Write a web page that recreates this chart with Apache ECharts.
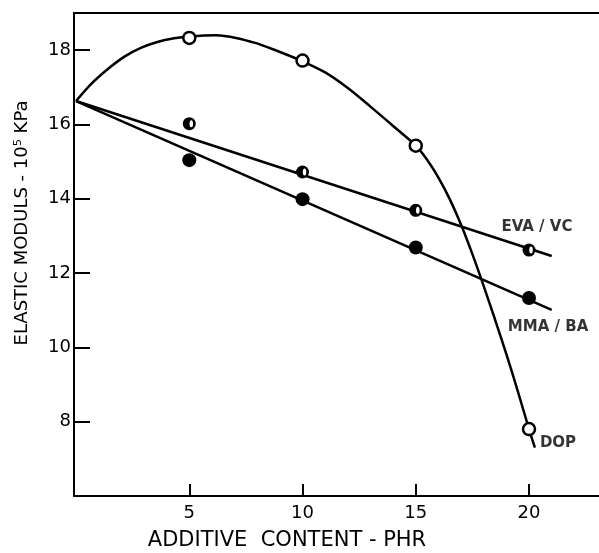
<!DOCTYPE html>
<html><head><meta charset="utf-8">
<script src="https://cdn.jsdelivr.net/npm/echarts@6/dist/echarts.min.js"></script>
<style>html,body{margin:0;padding:0;background:#fff}#c{width:599px;height:553px}</style>
</head><body><div id="c"></div>
<script>
// ---- data ----
const xTicks = [5, 10, 15, 20];
const yTicks = [8, 10, 12, 14, 16, 18];
const pointX = [5, 10, 15, 20];
const dopPoints = [18.33, 17.72, 15.43, 7.8];
const evaPoints = [16.02, 14.72, 13.69, 12.62];
const mmaPoints = [15.04, 13.99, 12.69, 11.33];
// drawn curves/lines
const dopCurveX = [0, 0.65, 1.38, 2.12, 2.86, 3.59, 4.33, 5, 6.2, 7.83, 9.0, 10, 11, 12, 13, 14, 15, 15.5, 16, 16.5, 17, 17.5, 18, 18.5, 19, 19.5, 20, 20.26];
const dopCurveY = [16.63, 17.08, 17.48, 17.82, 18.06, 18.22, 18.32, 18.37, 18.40, 18.21, 17.95, 17.7, 17.4, 16.98, 16.48, 15.96, 15.43, 15.05, 14.57, 13.99, 13.3, 12.51, 11.65, 10.75, 9.82, 8.83, 7.8, 7.3];
const evaLineX = [0, 21.0];
const evaLineY = [16.63, 12.46];
const mmaLineX = [0, 21.0];
const mmaLineY = [16.63, 11.01];
const seriesNames = ['EVA / VC', 'MMA / BA', 'DOP'];
const labelX = [20.35, 20.84, 21.28];
const labelY = [13.24, 10.55, 7.43];

const zip = (a, b) => a.map((v, i) => [v, b[i]]);
const FONT = '"DejaVu Sans", "Liberation Sans", Arial, sans-serif';

const chart = echarts.init(document.getElementById('c'), null, {renderer: 'canvas'});
chart.setOption({
  animation: false,
  backgroundColor: '#fff',
  grid: {left: 74, top: 13, right: 0, bottom: 57, containLabel: false},
  xAxis: [{
    type: 'value', min: -0.09, max: 23.09,
    splitLine: {show: false},
    axisLine: {show: true, onZero: false, lineStyle: {color: '#000', width: 2}},
    axisTick: {show: true, inside: true, length: 12, customValues: xTicks, lineStyle: {color: '#000', width: 2}},
    axisLabel: {show: true, customValues: xTicks, margin: 8, color: '#000', fontSize: 18, fontFamily: FONT}
  }, {
    type: 'value', position: 'top', min: -0.09, max: 23.09,
    splitLine: {show: false},
    axisLine: {show: true, onZero: false, lineStyle: {color: '#000', width: 2}},
    axisTick: {show: false}, axisLabel: {show: false}
  }],
  yAxis: {
    type: 'value', min: 6, max: 19,
    splitLine: {show: false},
    axisLine: {show: true, onZero: false, lineStyle: {color: '#000', width: 2}},
    axisTick: {show: true, inside: true, length: 16, customValues: yTicks, lineStyle: {color: '#000', width: 2}},
    axisLabel: {show: true, customValues: yTicks, margin: 3, color: '#000', fontSize: 18, fontFamily: FONT}
  },
  series: [
    {type: 'line', data: zip(dopCurveX, dopCurveY), smooth: 0.3, showSymbol: false, lineStyle: {color: '#000', width: 2.5}, z: 2},
    {type: 'line', data: zip(evaLineX, evaLineY), showSymbol: false, lineStyle: {color: '#000', width: 2.5}, z: 2},
    {type: 'line', data: zip(mmaLineX, mmaLineY), showSymbol: false, lineStyle: {color: '#000', width: 2.5}, z: 2},
    {type: 'scatter', data: zip(pointX, dopPoints), symbol: 'circle', symbolSize: 12,
     itemStyle: {color: '#fff', borderColor: '#000', borderWidth: 2.5, opacity: 1}, z: 5},
    {type: 'scatter', data: zip(pointX, evaPoints), symbol: 'circle', symbolSize: 13,
     itemStyle: {color: '#000', opacity: 1}, z: 5},
    {type: 'scatter', data: zip(pointX, evaPoints), symbol: 'circle', symbolSize: [3.5, 7], symbolOffset: [2, 0],
     itemStyle: {color: '#fff', opacity: 1}, z: 6},
    {type: 'scatter', data: zip(pointX, mmaPoints), symbol: 'circle', symbolSize: 14,
     itemStyle: {color: '#000', opacity: 1}, z: 5},
    {type: 'scatter', symbolSize: 0, z: 7,
     data: seriesNames.map((n, i) => ({value: [labelX[i], labelY[i]], name: n})),
     label: {show: true, position: 'inside', formatter: p => p.name, color: '#000', fontSize: 15, fontWeight: 'bold', fontFamily: FONT}}
  ],
  graphic: [
    {type: 'text', x: 22, y: 223, rotation: Math.PI / 2,
     style: {text: 'ELASTIC MODULS - 10⁵ KPa', font: '18px ' + FONT, fill: '#000', align: 'center', verticalAlign: 'middle'}},
    {type: 'text', x: 287, y: 541,
     style: {text: 'ADDITIVE  CONTENT - PHR', font: '21px ' + FONT, fill: '#000', align: 'center', verticalAlign: 'middle'}}
  ]
});
</script>
</body></html>
